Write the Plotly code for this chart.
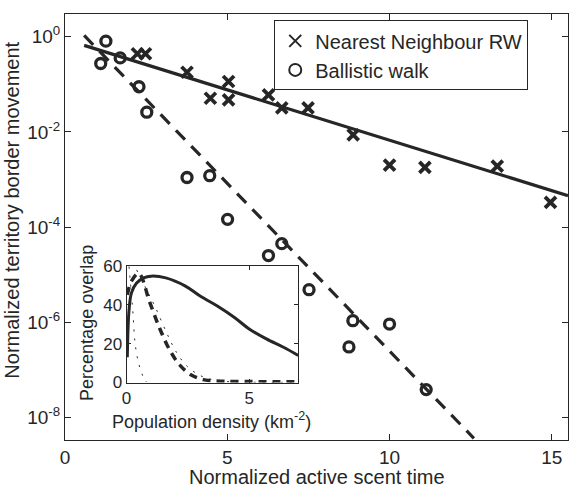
import plotly.graph_objects as go

# ---------------- data ----------------
# Main panel: Nearest Neighbour RW (x markers)
nn_x = [2.23, 2.48, 3.76, 5.04, 4.48, 5.04, 6.27, 6.68, 7.49, 8.88, 10.0, 11.09, 13.32, 14.96]
nn_y = [0.44, 0.44, 0.18, 0.115, 0.051, 0.047, 0.060, 0.032, 0.032, 0.0087, 0.0020, 0.0018, 0.0019, 0.00033]
# Ballistic walk (circles)
bw_x = [1.26, 1.10, 1.70, 2.28, 2.52, 3.76, 4.46, 5.01, 6.27, 6.68, 7.52, 8.87, 10.0, 8.75, 11.13]
bw_y = [0.81, 0.275, 0.36, 0.089, 0.026, 0.0011, 0.0012, 0.000145, 0.0000251, 0.0000447,
        0.0000048, 0.00000107, 0.00000091, 0.0000003, 0.000000038]
# Fit lines (end points)
nn_fit_x = [0.59, 15.5]
nn_fit_y = [0.66, 0.000457]
bw_fit_x = [0.59, 12.6]
bw_fit_y = [1.07, 0.0000000036]

# Inset curves
in_solid_x = [0.03, 0.1, 0.2, 0.4, 0.7, 1.0, 1.6, 2.4, 3.0, 3.7, 4.4, 5.0, 5.7, 6.4, 7.0]
in_solid_y = [13, 37, 46, 51, 53.7, 54.6, 53.7, 49.5, 44.4, 39.3, 33.4, 27.5, 22.4, 18.1, 13.9]
in_dash_x = [0.03, 0.2, 0.5, 0.95, 1.36, 1.77, 2.18, 2.66, 3.13, 3.4, 4.0, 5.0, 6.0, 7.0]
in_dash_y = [45, 52, 56, 41, 27.5, 16.4, 8.8, 3.7, 1.5, 1.0, 0.6, 0.5, 0.4, 0.4]
in_dot1_x = [0.1, 0.2, 0.27, 0.34, 0.48, 0.68, 0.82]
in_dot1_y = [59.5, 45, 34, 21, 10.5, 2.9, 0.2]
in_dot2_x = [0.41, 0.8, 1.16, 1.63, 2.04, 2.45, 3.0, 3.68, 4.5, 7.0]
in_dot2_y = [57.8, 48, 39, 25.6, 15.4, 8.6, 3.6, 1.0, 0.3, 0.1]

main_xticks = [0, 5, 10, 15]
main_yticks = [1e-8, 1e-6, 1e-4, 1e-2, 1]
main_yticktext = ["10<sup>-8</sup>", "10<sup>-6</sup>", "10<sup>-4</sup>", "10<sup>-2</sup>", "10<sup>0</sup>"]
inset_xticks = [0, 5]
inset_yticks = [0, 20, 40, 60]

# ---------------- figure ----------------
C = "#262626"
FONT = "Liberation Sans, Arial, sans-serif"

fig = go.Figure()

fig.add_trace(go.Scatter(x=nn_fit_x, y=nn_fit_y, mode="lines",
                         line=dict(color=C, width=3.2), showlegend=False, hoverinfo="skip"))
fig.add_trace(go.Scatter(x=bw_fit_x, y=bw_fit_y, mode="lines",
                         line=dict(color=C, width=3.2, dash="13px,9px"), showlegend=False, hoverinfo="skip"))
fig.add_trace(go.Scatter(x=nn_x, y=nn_y, mode="markers", name="Nearest Neighbour RW",
                         marker=dict(symbol="x-thin", size=11, line=dict(color=C, width=3.8), color=C)))
fig.add_trace(go.Scatter(x=bw_x, y=bw_y, mode="markers", name="Ballistic walk",
                         marker=dict(symbol="circle-open", size=10, line=dict(color=C, width=3.3), color=C)))

# inset traces
fig.add_trace(go.Scatter(x=in_dot1_x, y=in_dot1_y, mode="lines", xaxis="x2", yaxis="y2",
                         line=dict(color=C, width=1, dash="2px,7px", shape="spline"), showlegend=False))
fig.add_trace(go.Scatter(x=in_dot2_x, y=in_dot2_y, mode="lines", xaxis="x2", yaxis="y2",
                         line=dict(color=C, width=1, dash="2px,7px", shape="spline"), showlegend=False))
fig.add_trace(go.Scatter(x=in_dash_x, y=in_dash_y, mode="lines", xaxis="x2", yaxis="y2",
                         line=dict(color=C, width=3.5, dash="8px,6px", shape="spline"), showlegend=False))
fig.add_trace(go.Scatter(x=in_solid_x, y=in_solid_y, mode="lines", xaxis="x2", yaxis="y2",
                         line=dict(color=C, width=3, shape="spline"), showlegend=False))

axis_common = dict(showgrid=False, zeroline=False, showline=True, linecolor=C, linewidth=1,
                   mirror="ticks", ticks="inside", tickcolor=C, tickwidth=1)

fig.update_layout(
    width=574, height=492,
    margin=dict(l=65, r=5, t=10, b=52),
    paper_bgcolor="white", plot_bgcolor="white",
    font=dict(family=FONT, color=C, size=19),
    xaxis=dict(range=[0, 15.5], tickvals=main_xticks, ticklen=6,
               tickfont=dict(size=19), **axis_common),
    yaxis=dict(type="log", range=[-8.48, 0.48], tickvals=main_yticks, ticktext=main_yticktext,
               ticklen=6, tickfont=dict(size=19), **axis_common),
    xaxis2=dict(domain=[0.1224, 0.4637], anchor="y2", range=[0, 7], tickvals=inset_xticks,
                ticklen=4, tickfont=dict(size=17), **axis_common),
    yaxis2=dict(domain=[0.1349, 0.4093], anchor="x2", range=[0, 60], tickvals=inset_yticks,
                ticklen=4, tickfont=dict(size=17), **axis_common),
    legend=dict(x=0.416, y=0.985, xanchor="left", yanchor="top",
                bgcolor="white", bordercolor=C, borderwidth=1,
                font=dict(size=20, family=FONT, color=C), itemsizing="constant",
                tracegroupgap=0, entrywidth=225),
    showlegend=True,
    annotations=[
        dict(text="Normalized territory border movement", xref="paper", yref="paper",
             x=-0.106, y=0.54, textangle=-90, showarrow=False, font=dict(size=20),
             xanchor="center", yanchor="middle"),
        dict(text="Normalized active scent time", xref="paper", yref="paper",
             x=0.5, y=-0.086, showarrow=False, font=dict(size=20),
             xanchor="center", yanchor="middle"),
        dict(text="Percentage overlap", xref="paper", yref="paper",
             x=0.045, y=0.274, textangle=-90, showarrow=False, font=dict(size=18),
             xanchor="center", yanchor="middle"),
        dict(text="Population density (km<sup>-2</sup>)", xref="paper", yref="paper",
             x=0.2917, y=0.0465, showarrow=False, font=dict(size=18),
             xanchor="center", yanchor="middle"),
    ],
)

fig.write_html("out.html")
